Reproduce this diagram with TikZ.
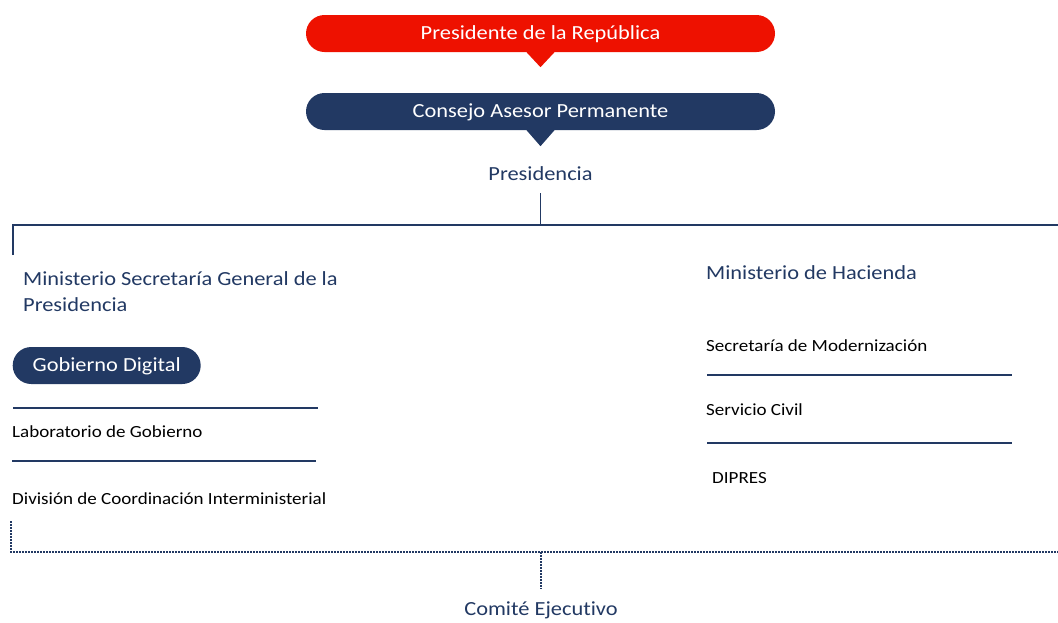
\documentclass[tikz,border=0pt]{standalone}
\usepackage{fontspec}
\setmainfont{Carlito}[FakeStretch=1.12, Ligatures=NoCommon]
\usetikzlibrary{positioning}
\definecolor{rojo}{RGB}{238,17,0}
\definecolor{marino}{RGB}{34,57,99}
\tikzset{
	pill/.style={rounded corners=18.5pt, minimum height=37pt, text=white, text height=14pt, text depth=2pt, font=\fontsize{20}{23}\selectfont},
	titulo/.style={text=marino, font=\fontsize{20}{26}\selectfont, inner sep=0pt},
	unidad/.style={anchor=west, text=black, font=\fontsize{17}{20}\selectfont, inner sep=0pt},
	raya/.style={draw=marino, line width=1.8pt},
	puntos/.style={draw=marino, line width=2pt, dash pattern=on 1.5pt off 1.5pt}
}
\begin{document}
\begin{tikzpicture}[x=1pt, y=-1pt]
		\useasboundingbox (0,0) rectangle (1058,622);
		
		% Presidente
		\node[pill, fill=rojo, minimum width=469pt] (presidente) at (540.5, 33.5) {Presidente de la República};
		\fill[rojo] ([xshift=-14pt]presidente.south) -- ([yshift=-15pt]presidente.south) -- ([xshift=14pt]presidente.south) -- cycle;
		
		% Consejo
		\node[pill, fill=marino, minimum width=469pt] (consejo) at (540.5, 111.5) {Consejo Asesor Permanente};
		\fill[marino] ([xshift=-14pt]consejo.south) -- ([yshift=-16pt]consejo.south) -- ([xshift=14pt]consejo.south) -- cycle;
		
		% Presidencia and bar
		\node[titulo] (presidencia) at (540.5, 174) {Presidencia};
		\coordinate (barra) at (540.5, 225);
		\coordinate (barraizq) at (13, 225);
		\coordinate (barrader) at (1058, 225);
		\coordinate (bajaizq) at (13, 255);
		\draw[raya] (540.5, 193) -- (barra);
		\draw[raya] (bajaizq) -- (barraizq) -- (barrader);
		
		% Segpres
		\node[titulo, anchor=north west, align=left] (segpres) at (23, 271) {Ministerio Secretaría General de la\\Presidencia};
		\node[pill, fill=marino, minimum width=188pt, anchor=west] (gobdigital) at (12.5, 365.5) {Gobierno Digital};
		\node[unidad] (labgob) at (12, 432) {Laboratorio de Gobierno};
		\node[unidad] (dci) at (12, 499) {División de Coordinación Interministerial};
		\draw[raya] (13, 408) -- (318, 408);
		\draw[raya] (12, 461) -- (316, 461);
		
		% Hacienda
		\node[titulo, anchor=west] (hacienda) at (706, 273) {Ministerio de Hacienda};
		\node[unidad] (secmod) at (706, 346) {Secretaría de Modernización};
		\node[unidad] (servcivil) at (706, 410) {Servicio Civil};
		\node[unidad] (dipres) at (712, 478) {DIPRES};
		\draw[raya] (707, 375) -- (1012, 375);
		\draw[raya] (707, 443) -- (1012, 443);
		
		% Comite
		\coordinate (puntoizq) at (11, 521);
		\coordinate (esquina) at (11, 552);
		\coordinate (puntoder) at (1058, 552);
		\coordinate (puntomed) at (541, 552);
		\coordinate (puntobajo) at (541, 589);
		\node[titulo] (comite) at (541, 610) {Comité Ejecutivo};
		\draw[puntos] (puntoizq) -- (esquina) -- (puntoder);
		\draw[puntos] (puntomed) -- (puntobajo);
	\end{tikzpicture}
\end{document}
